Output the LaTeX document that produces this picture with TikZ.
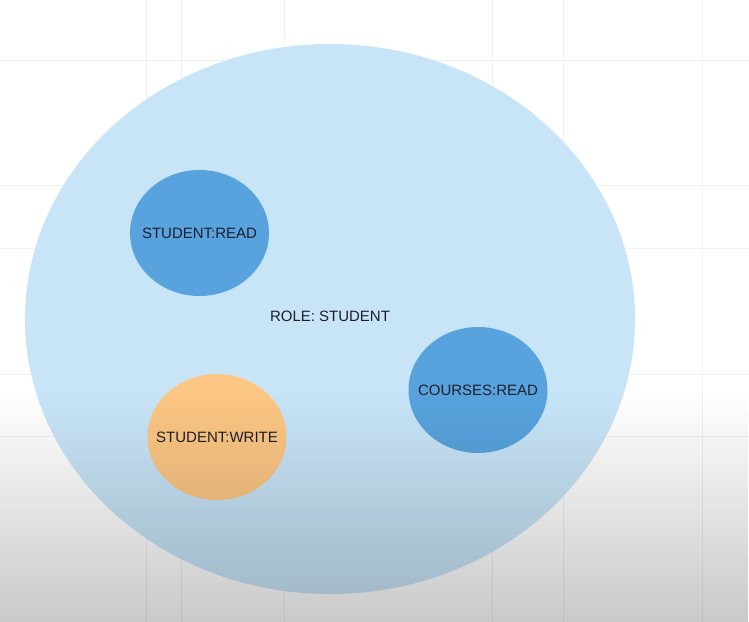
\documentclass[tikz,border=0pt]{standalone}
\usepackage{fontspec}
\setmainfont{Liberation Sans}
\usetikzlibrary{shapes.geometric,fadings}

\definecolor{roleblue}{HTML}{C8E5F8}
\definecolor{permblue}{HTML}{58A3DE}
\definecolor{permorange}{HTML}{FCC784}
\definecolor{labeltext}{HTML}{1C1F2A}

\begin{document}
\begin{tikzpicture}[
    x=0.03cm, y=-0.03cm,
    role/.style={ellipse, fill=roleblue, minimum width=18.3cm, minimum height=16.5cm, inner sep=0pt},
    perm/.style={ellipse, minimum width=4.17cm, minimum height=3.78cm, inner sep=0pt,
        label={[font=\fontsize{12.8}{14}\selectfont, text=labeltext]center:#1}},
    gridline/.style={black!6, line width=0.6pt}
]
    \useasboundingbox (0,0) rectangle (749,622);
    \fill[white] (0,0) rectangle (749,622);

    % faint board lines
    \foreach \gy in {60,185,248,374,436}
        \draw[gridline] (0,\gy) -- (749,\gy);
    \foreach \gx in {146,181,284,492,563,702}
        \draw[gridline] (\gx,0) -- (\gx,622);

    \node[role] (role) at (330,319) {};
    \node[font=\fontsize{12.8}{14}\selectfont, text=labeltext] (rolelabel) at (330,316) {ROLE: STUDENT};

    \node[perm=STUDENT:READ, fill=permblue] (sread) at (199.5,233) {};
    \node[perm=STUDENT:WRITE, fill=permorange] (swrite) at (217,437) {};
    \node[perm=COURSES:READ, fill=permblue] (cread) at (478,390) {};

    % darker band at the bottom
    \fill[black, opacity=0.21, path fading=north] (0,392) rectangle (749,622);
\end{tikzpicture}
\end{document}
